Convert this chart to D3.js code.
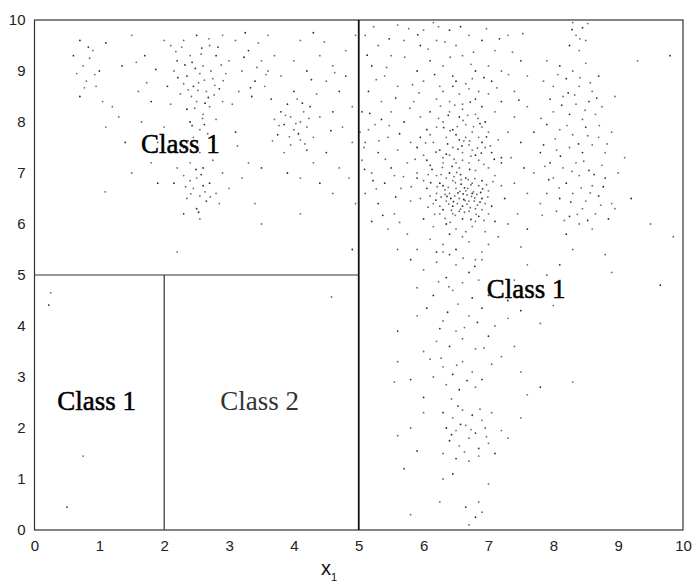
<!DOCTYPE html>
<html>
<head>
<meta charset="utf-8">
<script src="https://cdn.jsdelivr.net/npm/d3@7"></script>
<style>
  html, body { margin: 0; padding: 0; background: #fff; }
  svg { display: block; }
</style>
</head>
<body>
<svg id="chart" width="694" height="585"></svg>
<script>
// ---- Data ----
const xTicks = [0, 1, 2, 3, 4, 5, 6, 7, 8, 9, 10];
const yTicks = [0, 1, 2, 3, 4, 5, 6, 7, 8, 9, 10];

// decision-tree split boundaries (data units)
const splits = [
  { x1: 5, y1: 0, x2: 5, y2: 10, heavy: true },
  { x1: 0, y1: 5, x2: 5, y2: 5, heavy: false },
  { x1: 2, y1: 0, x2: 2, y2: 5, heavy: false }
];

const regionLabels = [
  { text: "Class 1", x: 2.25, y: 7.40, cls: 1 },
  { text: "Class 1", x: 0.96, y: 2.35, cls: 1 },
  { text: "Class 2", x: 3.47, y: 2.35, cls: 2 },
  { text: "Class 1", x: 7.58, y: 4.55, cls: 1 }
];

// sample points, upper-left region (x<5, y>5) and a few below
const pointsLeft = [
  [0.7,9.6],[0.9,9.4],[0.75,9.1],[1.0,9.0],[0.8,8.8],[0.95,8.7],[0.7,8.5],[1.05,8.4],[0.85,9.25],[1.1,9.55],[0.65,8.95],[1.2,8.3],[0.6,9.3],
  [1.3,8.1],[1.5,9.7],[1.4,7.6],[1.6,8.6],[1.8,7.2],[1.7,9.3],[1.1,7.9],[1.09,6.63],[1.9,6.8],[1.5,7.0],[1.65,8.0],[1.35,9.1],
  [2.1,9.5],[2.3,9.6],[2.5,9.7],[2.7,9.5],[2.9,9.7],[2.2,9.2],[2.4,9.3],[2.6,9.1],[2.8,9.3],[3.0,9.2],[2.15,9.0],[2.35,8.9],[2.55,8.95],[2.75,8.85],[2.45,8.7],[2.65,8.6],[2.25,8.55],[2.85,8.65],[2.5,8.4],[2.7,8.3],[2.35,8.25],[2.6,8.15],[2.8,8.05],[2.4,8.0],[2.55,7.85],[2.9,8.4],[2.05,8.7],[2.3,8.75],[2.62,8.82],[2.48,9.05],[2.72,9.0],[2.18,9.38],[2.58,9.45],[2.95,8.95],[2.42,8.5],[2.68,8.48],[2.52,8.62],[2.78,8.72],[2.32,9.12],[2.88,9.12],[2.1,8.35],[2.62,7.95],[2.45,7.7],[2.75,7.6],[2.3,7.5],[2.55,7.4],
  [2.4,7.2],[2.6,7.1],[2.5,6.9],[2.3,6.95],[2.7,6.8],[2.45,6.7],[2.55,6.55],[2.65,6.45],[2.35,6.5],[2.8,6.6],[2.5,6.3],[2.2,7.1],[2.9,7.0],[2.6,6.75],[2.4,6.85],[2.75,7.25],[2.15,6.8],[2.85,6.4],[2.55,6.1],[2.3,6.2],
  [1.9,7.6],[2.0,7.9],[3.1,7.8],[3.3,7.2],[3.2,6.9],[3.5,7.1],[3.0,6.7],[3.4,6.4],[1.8,8.4],[2.0,9.6],
  [3.1,9.6],[3.3,9.4],[3.5,9.2],[3.2,9.0],[3.4,8.8],[3.6,9.0],[3.15,8.6],[3.35,8.5],[3.55,8.7],[3.7,9.3],[3.25,9.75],[3.45,9.55],[3.05,8.35],[3.65,8.45],[3.8,8.9],[3.6,9.7],
  [3.8,8.2],[3.95,8.1],[4.1,8.0],[3.85,7.95],[4.0,7.85],[4.15,8.2],[3.9,8.35],[4.05,8.45],[4.2,7.9],[3.75,7.75],[4.1,7.65],[3.95,7.55],[4.25,8.3],[3.7,8.05],[4.3,7.7],[4.0,8.6],[4.4,8.1],[3.85,7.4],[4.2,7.45],[4.35,8.55],
  [4.0,9.2],[4.2,9.0],[4.4,9.3],[4.1,9.6],[4.3,9.75],[4.6,9.1],[4.5,8.8],[4.7,8.6],[4.8,9.4],[4.9,8.3],[4.6,8.2],[4.75,7.9],[4.9,7.6],[4.5,7.4],[4.7,7.1],[4.85,6.9],[4.4,6.8],[4.95,6.4],[4.6,6.6],[4.8,8.9],[4.95,9.7],[4.1,6.9],[3.9,7.0],[4.3,7.2],
  [2.2,5.45],[4.9,5.5],[4.1,6.2],[3.5,6.0],
  [0.22,4.41],[0.25,4.65],[0.75,1.45],[0.5,0.45],[4.58,4.57],
  [2.27,9.47],[2.43,9.17],[2.57,9.33],[2.69,9.63],[2.83,9.47],[2.37,8.63],[2.53,8.77],[2.63,8.37],[2.47,8.27],[2.77,8.53],[2.21,8.87],[2.91,8.81],[2.59,8.07],[2.43,7.93],[2.67,7.77],[2.37,7.63],[2.49,7.07],[2.63,6.63],[2.41,6.59],[2.57,6.97],[2.71,6.53],[2.33,6.73],[2.53,6.23],
  [3.87,8.13],[4.03,7.97],[4.13,8.37],[3.93,7.71],[4.23,8.07],[4.07,7.77],[3.77,7.93],[4.17,7.57],[0.83,9.47],[0.93,8.93],[0.77,8.67],[3.23,9.27],[3.43,9.07],[3.57,8.93],[3.33,8.67],[4.47,9.57],[4.63,8.97],[4.27,8.83],[1.73,8.77],[1.57,9.17],[1.87,9.03],[3.13,7.53],[3.67,7.63],[4.57,7.83]
];

// sample points, right region (x>5)
const pointsRight = [
  [5.1,9.7],[5.3,9.5],[5.2,9.1],[5.5,9.3],[5.4,8.9],[5.15,8.6],[5.6,8.7],[5.35,8.4],[5.05,8.2],[5.5,8.2],[5.25,7.95],[5.7,8.0],[5.45,7.7],[5.1,7.6],[5.3,7.4],[5.6,7.45],[5.05,7.25],[5.5,7.1],[5.2,7.0],[5.75,7.2],[5.4,6.8],[5.1,6.6],[5.65,6.7],[5.3,6.4],[5.55,6.2],[5.8,6.45],[5.2,6.05],[5.45,5.9],[5.75,5.8],[5.9,9.0],[5.7,9.6],[5.85,8.4],[5.95,7.7],[5.6,9.9],[5.15,7.85],[5.35,8.05],[5.02,7.8],[5.08,7.5],[5.22,6.85],[5.55,6.95],[5.8,7.6],[5.9,6.9],
  [6.0,9.8],[6.2,9.6],[6.4,9.8],[6.5,9.5],[6.7,9.7],[6.9,9.6],[7.1,9.4],[7.3,9.7],[6.1,9.2],[6.3,9.1],[6.6,9.3],[6.8,9.0],[7.0,9.1],[7.2,9.0],[7.5,9.2],[6.0,8.8],[6.25,8.7],[6.45,8.9],[6.65,8.75],[6.85,8.6],[7.05,8.8],[7.4,8.6],[7.6,8.9],[5.95,9.5],[6.15,9.95],
  [6.3,8.6],[6.45,8.7],[6.55,8.55],[6.7,8.65],[6.8,8.45],[6.4,8.4],[6.6,8.35],[6.9,8.3],[6.2,8.45],[7.0,8.55],[6.5,8.8],[6.75,8.85],
  [5.95,8.1],[6.1,8.2],[6.3,8.0],[6.4,8.2],[6.55,8.1],[6.65,7.95],[6.8,8.15],[6.95,8.0],[7.1,8.2],[6.2,7.9],[6.45,7.85],[6.75,7.8],[6.9,7.9],[6.05,7.85],[6.6,8.25],[7.0,7.8],
  [5.9,7.5],[6.0,7.35],[6.15,7.6],[6.25,7.45],[6.35,7.7],[6.45,7.5],[6.55,7.65],[6.6,7.4],[6.7,7.55],[6.8,7.35],[6.85,7.7],[6.95,7.5],[7.05,7.4],[7.15,7.65],[6.3,7.3],[6.5,7.75],[6.75,7.45],[6.1,7.75],[7.2,7.3],[6.65,7.7],[6.4,7.35],[6.9,7.6],
  [5.9,7.0],[6.0,6.85],[6.1,7.15],[6.2,6.95],[6.3,7.2],[6.4,7.0],[6.45,6.85],[6.55,7.1],[6.65,6.9],[6.7,7.2],[6.8,7.05],[6.9,6.85],[7.0,7.1],[7.1,6.95],[6.25,6.8],[6.6,7.25],[6.85,7.25],[6.05,7.25],[6.35,6.9],[6.75,6.8],[7.2,7.2],[6.5,7.2],
  [5.95,6.5],[6.05,6.7],[6.15,6.4],[6.2,6.6],[6.3,6.75],[6.35,6.45],[6.4,6.6],[6.45,6.35],[6.5,6.7],[6.55,6.5],[6.6,6.35],[6.65,6.65],[6.7,6.45],[6.75,6.6],[6.8,6.3],[6.85,6.75],[6.9,6.5],[6.95,6.4],[7.0,6.65],[7.05,6.35],[6.25,6.35],[6.48,6.55],[6.58,6.78],[6.72,6.32],[6.38,6.72],[6.62,6.48],[6.82,6.58],[6.52,6.4],[6.42,6.5],[6.68,6.7],[6.78,6.45],[6.88,6.62],[6.1,6.55],[6.33,6.58],
  [6.0,6.1],[6.15,5.95],[6.25,6.2],[6.35,6.0],[6.45,6.2],[6.5,5.9],[6.6,6.1],[6.7,6.25],[6.75,5.95],[6.85,6.15],[6.95,5.85],[7.0,6.2],[6.4,5.8],[6.65,5.85],[6.55,6.25],[6.3,6.28],[6.8,6.05],[6.9,6.28],[7.1,6.05],
  [6.1,5.7],[6.3,5.6],[6.5,5.5],[6.7,5.65],[6.9,5.45],[6.4,5.4],[6.6,5.75],[7.0,5.6],[6.2,5.45],[5.9,5.5],[6.8,5.3],
  [7.2,8.4],[7.4,8.1],[7.3,7.8],[7.5,7.6],[7.6,8.3],[7.35,7.3],[7.55,7.1],[7.4,6.8],[7.6,6.6],[7.25,6.5],[7.7,7.0],[7.45,6.2],[7.7,7.8],[7.8,6.4],[7.3,6.0],[7.6,5.9],[7.15,5.75],[7.5,5.55],[7.8,7.4],[7.2,6.75],
  [8.3,9.95],[8.45,9.85],[8.35,9.7],[8.5,9.6],[8.25,9.5],[8.4,9.4],
  [7.9,9.2],[8.1,9.1],[8.3,9.0],[8.5,9.15],[8.7,8.9],[7.85,8.8],[8.0,8.7],[8.2,8.85],[8.4,8.7],[8.6,8.6],[7.95,8.45],[8.15,8.5],[8.35,8.35],[8.55,8.4],[8.75,8.3],[8.0,8.2],[8.25,8.15],[8.45,8.05],[8.65,8.15],[7.9,7.95],[8.1,7.85],[8.3,7.75],[8.5,7.9],[8.7,7.7],[8.9,7.8],[7.85,7.55],[8.05,7.45],[8.25,7.5],[8.45,7.4],[8.6,7.55],[8.8,7.4],[7.95,7.2],[8.15,7.1],[8.35,7.2],[8.55,7.05],[8.75,7.15],[8.0,6.9],[8.2,6.8],[8.4,6.95],[8.6,6.75],[8.8,6.9],[9.0,7.0],[7.9,6.6],[8.1,6.5],[8.3,6.6],[8.5,6.45],[8.7,6.55],[8.9,6.4],[8.05,6.25],[8.25,6.15],[8.45,6.3],[8.65,6.2],[8.85,6.1],[8.4,6.0],[8.6,5.9],[8.2,5.8],[8.95,6.3],[9.1,7.3],[9.2,6.5],[8.95,8.5],[9.3,9.2],[9.8,9.3],[9.5,6.0],[9.85,5.75],[9.65,4.8],[8.8,5.4],[8.9,5.05],[8.1,5.2],[7.9,5.0],[8.3,5.5],
  [5.8,5.3],[6.0,5.1],[6.2,5.25],[6.35,4.95],[6.5,5.2],[6.6,4.85],[6.7,5.05],[6.85,4.9],[6.45,4.7],[6.15,4.6],[5.9,4.75],[6.9,5.3],[7.0,4.6],[7.4,4.9],[7.6,5.2],[7.3,4.5],[7.8,4.7],[5.6,5.5],[6.75,4.55],[6.3,5.45],
  [5.9,4.2],[6.05,4.35],[6.3,4.1],[6.7,4.2],[6.9,4.35],[7.1,4.0],[7.3,4.15],[7.5,4.3],[6.5,3.9],[6.2,3.7],[6.4,3.6],[6.6,3.75],[6.8,3.55],[7.0,3.8],[7.4,3.6],[6.0,3.5],[5.6,3.9],[7.8,4.05],[8.0,4.4],[6.25,3.95],
  [5.6,3.3],[5.55,2.9],[5.8,2.95],[6.1,3.35],[6.3,3.2],[6.45,3.05],[6.6,3.3],[6.75,3.1],[6.9,2.95],[7.05,3.25],[6.35,2.85],[6.55,2.75],[6.8,2.8],[7.5,3.1],[7.8,2.8],[6.15,3.0],[7.2,3.4],[6.0,2.6],[8.3,2.9],[7.6,2.65],
  [6.3,2.3],[6.45,2.2],[6.6,2.35],[6.75,2.25],[6.9,2.15],[7.05,2.3],[6.35,2.0],[6.5,1.95],[6.65,2.05],[6.8,1.9],[6.95,2.0],[7.2,1.95],[6.4,1.75],[6.55,1.65],[6.7,1.8],[6.85,1.6],[7.0,1.7],[6.3,1.5],[6.5,1.4],[6.7,1.35],[6.85,1.45],[7.1,1.5],[5.8,2.0],[5.6,1.85],[5.9,1.55],[6.0,2.3],[7.5,2.2],[5.7,1.2],[7.3,1.8],
  [6.3,1.0],[6.65,0.45],[6.85,0.55],[6.25,0.55],[6.8,0.25],[5.8,0.3],[7.0,0.9],[6.45,1.1],[6.9,0.35],[6.7,0.1],
  [6.13,7.07],[6.27,6.53],[6.41,7.83],[6.57,6.97],[6.63,6.23],[6.71,7.63],[6.87,6.43],[6.93,7.17],[6.07,6.33],[6.19,7.41],[6.33,6.11],[6.47,7.27],[6.53,6.61],[6.69,6.87],[6.77,7.91],[6.91,6.69],[7.03,7.53],[6.23,8.07],[6.37,7.57],[6.49,6.17],[6.61,8.03],[6.73,6.09],[6.83,7.49],[6.97,6.77],[6.11,6.81],[6.29,7.11],[6.43,6.27],[6.59,7.53],[6.67,6.57],[6.79,6.89],[6.89,7.39],[7.07,6.83],[6.17,6.19],[6.31,7.89],[6.39,6.39],[6.51,7.01],[6.63,6.71],[6.73,7.33],[6.81,6.19],[6.97,7.71],[6.03,7.59],[6.21,6.73],[6.35,7.37],[6.47,6.93],[6.57,6.29],[6.71,7.07],[6.79,6.51],[6.93,6.07],[7.09,7.27],[6.27,6.97],[6.41,6.03],[6.53,7.47],[6.67,6.39],[6.77,6.63],[6.87,7.97],[6.99,6.53],[6.07,6.97],[6.19,6.47],[6.33,6.67],[6.49,6.81],[6.61,6.59],[6.73,6.77],[6.83,6.37],[6.46,6.44],[6.56,6.64],[6.64,6.46],[6.36,6.54],[6.74,6.54],[6.58,6.87],[6.44,7.13],[6.62,7.63],[6.52,7.91],[6.38,8.13],[6.68,8.13],[6.48,8.33],[6.72,8.39],[6.26,8.31],[6.84,8.07],
  [5.13,9.31],[5.27,8.83],[5.43,9.07],[5.57,8.47],[5.71,9.27],[5.83,8.73],[5.17,8.17],[5.31,7.63],[5.47,7.93],[5.63,7.77],[5.79,8.27],[5.93,8.57],[5.09,7.07],[5.27,6.69],[5.41,7.27],[5.57,6.53],[5.69,6.93],[5.87,7.27],[5.37,6.17],[5.63,6.03],[5.81,6.73],[5.47,9.63],[5.23,9.87],[5.77,9.83],[5.91,9.71],
  [6.07,9.43],[6.33,9.57],[6.57,9.87],[6.77,9.37],[6.97,9.83],[7.17,9.63],[7.37,9.37],[7.53,9.73],[6.17,8.93],[6.41,9.27],[6.73,9.13],[6.93,8.87],[7.13,8.67],[7.31,8.93],[7.47,8.43],[6.23,9.87],
  [8.07,8.93],[8.23,8.57],[8.41,8.87],[8.57,8.77],[8.13,8.33],[8.33,8.53],[8.49,8.23],[8.67,8.47],[8.03,7.67],[8.21,7.93],[8.39,7.57],[8.53,7.73],[8.71,7.93],[8.11,7.33],[8.29,7.03],[8.47,7.23],[8.63,6.97],[8.83,7.57],[8.09,6.71],[8.27,6.43],[8.43,6.71],[8.57,6.61],[8.77,6.73],[8.17,6.07],[8.37,6.19],[8.53,6.07],[8.73,6.37],[8.41,9.63],[8.29,9.81],[8.53,9.93],[7.87,7.13],[7.93,6.87],[7.81,8.07],[7.83,6.17],
  [6.37,4.27],[6.53,4.43],[6.63,3.97],[6.83,4.07],[6.27,3.37],[6.51,3.23],[6.67,2.93],[6.43,2.57],[6.93,3.57],[6.57,2.07],[6.73,1.97],[6.63,1.53],[6.43,1.87],[6.87,2.37],[6.97,1.83],[6.53,2.43],[6.39,4.77],[6.61,5.33],[6.79,5.17],[6.23,4.87]
];

// ---- Drawing ----
const svg = d3.select("#chart");
const x = d3.scaleLinear().domain([0, 10]).range([34.5, 683]);
const y = d3.scaleLinear().domain([0, 10]).range([530, 20]);

// points
const allPts = pointsLeft.concat(pointsRight);
svg.append("g").selectAll("circle").data(allPts).join("circle")
  .attr("cx", d => x(d[0]))
  .attr("cy", d => y(d[1]))
  .attr("r", 0.9)
  .attr("fill", (d, i) => (i % 3 === 0 ? "#2a2a2a" : "#6a6a6a"));

// frame
svg.append("rect")
  .attr("x", x(0)).attr("y", y(10))
  .attr("width", x(10) - x(0)).attr("height", y(0) - y(10))
  .attr("fill", "none").attr("stroke", "#333").attr("stroke-width", 1.2);

// splits
svg.append("g").selectAll("line").data(splits).join("line")
  .attr("x1", d => x(d.x1)).attr("y1", d => y(d.y1))
  .attr("x2", d => x(d.x2)).attr("y2", d => y(d.y2))
  .attr("stroke", d => d.heavy ? "#111" : "#333")
  .attr("stroke-width", d => d.heavy ? 1.8 : 1.2);

// axes
const fontAx = "'Liberation Sans', Arial, sans-serif";
const yAxis = svg.append("g").attr("transform", `translate(${x(0)},0)`)
  .call(d3.axisLeft(y).tickValues(yTicks).tickSize(0).tickPadding(9).tickFormat(d3.format("d")));
yAxis.select(".domain").remove();
yAxis.selectAll("text").attr("font-family", fontAx).attr("font-size", 15).attr("fill", "#222");

const xAxis = svg.append("g").attr("transform", `translate(0,${y(0)})`)
  .call(d3.axisBottom(x).tickValues(xTicks).tickSize(0).tickPadding(10).tickFormat(d3.format("d")));
xAxis.select(".domain").remove();
xAxis.selectAll("text").attr("font-family", fontAx).attr("font-size", 15).attr("fill", "#222");

// x-axis title with subscript
const xt = svg.append("text")
  .attr("x", 329).attr("y", 575)
  .attr("text-anchor", "middle")
  .attr("font-family", fontAx).attr("font-size", 20).attr("fill", "#111");
xt.append("tspan").text("x");
xt.append("tspan").attr("font-size", 11).attr("dy", 6).text("1");

// region labels
svg.append("g").selectAll("text").data(regionLabels).join("text")
  .attr("x", d => x(d.x)).attr("y", d => y(d.y))
  .attr("text-anchor", "middle")
  .attr("font-family", "'Liberation Serif', 'Times New Roman', serif")
  .attr("font-size", 27)
  .attr("fill", d => d.cls === 1 ? "#000" : "#333")
  .attr("stroke", d => d.cls === 1 ? "#000" : "none")
  .attr("stroke-width", 0.5)
  .text(d => d.text);
</script>
</body>
</html>
